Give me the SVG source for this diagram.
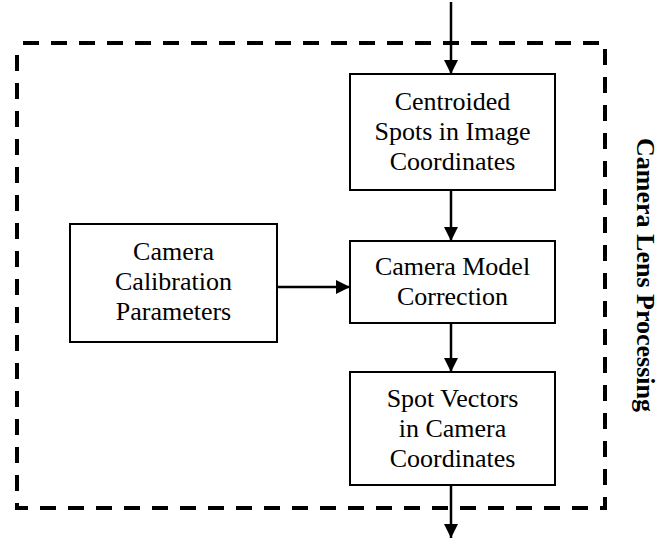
<svg xmlns="http://www.w3.org/2000/svg" width="664" height="539" viewBox="0 0 664 539">
<style>
.box{fill:#fff;stroke:#000;stroke-width:2}
.t{font-family:"Liberation Serif","Times New Roman",serif;font-size:26px;fill:#000;text-anchor:middle}
.c{stroke:#000;stroke-width:2.5;fill:none}
.frame{fill:none;stroke:#000;stroke-width:4;stroke-dasharray:16 12}
</style>
<defs>
<marker id="ah" markerUnits="userSpaceOnUse" markerWidth="14" markerHeight="14" viewBox="0 0 14 14" refX="14" refY="7" orient="auto">
<path d="M0,0 L14,7 L0,14 Z" fill="#000"/>
</marker>
</defs>
<rect class="frame" x="17" y="43" width="588" height="465" stroke-dashoffset="-6"/>
<g id="connectors">
<line class="c" x1="451" y1="2" x2="451" y2="74" marker-end="url(#ah)"/>
<line class="c" x1="451" y1="190" x2="451" y2="241" marker-end="url(#ah)"/>
<line class="c" x1="277" y1="287" x2="350" y2="287" marker-end="url(#ah)"/>
<line class="c" x1="451" y1="323" x2="451" y2="372" marker-end="url(#ah)"/>
<line class="c" x1="451" y1="485" x2="451" y2="538" marker-end="url(#ah)"/>
</g>
<g id="centroided">
<rect class="box" x="350" y="74" width="205" height="116"/>
<text class="t" x="452.5" y="110">Centroided</text>
<text class="t" x="452.5" y="140">Spots in Image</text>
<text class="t" x="452.5" y="170">Coordinates</text>
</g>
<g id="calibration">
<rect class="box" x="70" y="224" width="207" height="118"/>
<text class="t" x="173.5" y="260">Camera</text>
<text class="t" x="173.5" y="290">Calibration</text>
<text class="t" x="173.5" y="320">Parameters</text>
</g>
<g id="model">
<rect class="box" x="350" y="241" width="205" height="82"/>
<text class="t" x="452.5" y="275">Camera Model</text>
<text class="t" x="452.5" y="305">Correction</text>
</g>
<g id="vectors">
<rect class="box" x="350" y="372" width="205" height="113"/>
<text class="t" x="452.5" y="407">Spot Vectors</text>
<text class="t" x="452.5" y="437">in Camera</text>
<text class="t" x="452.5" y="467">Coordinates</text>
</g>
<g id="label">
<text class="t" font-weight="bold" transform="translate(637,275) rotate(90)">Camera Lens Processing</text>
</g>
</svg>
